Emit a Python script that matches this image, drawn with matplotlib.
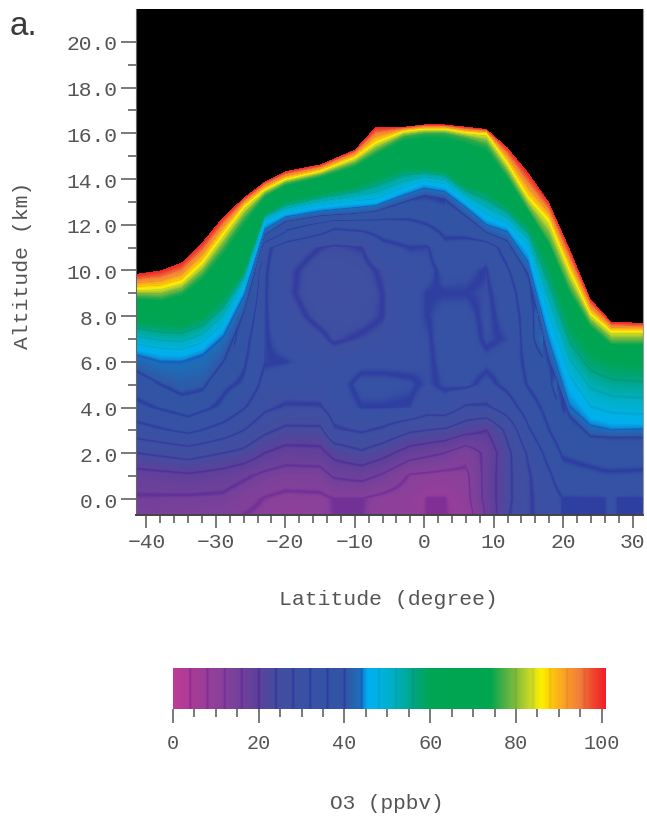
import numpy as np
import matplotlib
matplotlib.use('Agg')
import matplotlib.pyplot as plt
from matplotlib.colors import ListedColormap

# heights (km) of the main O3 isolines along latitude
lat_edge = [-41.5, -38, -35, -32, -29, -26, -23, -20, -15, -10, -7, -3, 0, 3, 6, 9, 12, 15, 18, 21, 24, 27, 31.5]
h101 = [9.85, 10.0, 10.35, 11.25, 12.35, 13.2, 13.9, 14.35, 14.65, 15.3, 16.3, 16.3, 16.4, 16.4, 16.3, 16.2, 15.4, 14.3, 13.0, 10.95, 8.75, 7.75, 7.7]
h86 = [9.2, 9.25, 9.5, 10.35, 11.6, 12.8, 13.55, 14.0, 14.35, 14.95, 15.6, 16.1, 16.2, 16.2, 16.05, 16.0, 14.7, 13.2, 12.2, 10.0, 8.1, 7.33, 7.33]
h76 = [8.85, 8.8, 9.05, 9.8, 10.95, 12.25, 13.3, 13.8, 14.15, 14.65, 15.2, 15.85, 16.0, 16.0, 15.8, 15.5, 14.2, 12.7, 11.3, 9.2, 7.65, 6.85, 6.85]
h60 = [7.8, 7.65, 7.6, 7.95, 8.75, 10.0, 12.5, 13.0, 13.35, 13.65, 14.0, 14.45, 14.45, 14.35, 13.7, 13.45, 12.8, 11.95, 10.15, 7.6, 6.4, 5.95, 5.83]
h46 = [6.6, 6.4, 6.35, 6.65, 7.5, 9.25, 12.1, 12.5, 12.8, 12.95, 13.0, 13.5, 13.85, 13.7, 13.0, 12.3, 11.95, 10.95, 7.7, 5.0, 3.65, 3.4, 3.35]
h44 = [6.3, 6.0, 6.0, 6.3, 7.1, 8.9, 11.8, 12.35, 12.6, 12.75, 12.85, 13.3, 13.6, 13.45, 12.77, 12.0, 11.7, 10.35, 6.9, 4.0, 3.2, 3.0, 3.05]
h40 = [5.6, 5.0, 4.55, 4.75, 6.0, 8.2, 11.55, 12.15, 12.4, 12.5, 12.6, 13.0, 13.3, 13.15, 12.4, 11.67, 11.3, 9.85, 6.1, 3.65, 2.75, 2.7, 2.7]
edge_levels = [40, 44, 46, 60, 76, 86, 101]

# O3 (ppbv) below the 40 line, one list per altitude
lat_low = [-41.5, -34, -29, -26, -23, -20, -15, -13, -9, -6, -2, 0.5, 3, 6, 9, 12, 15, 18, 20, 26, 27, 28, 31.5]
alt_low = [-0.7, 0, 1, 2, 3, 4, 5, 6, 7, 8, 9, 10, 11, 12, 13]
o3_m07 = [14.5, 14.0, 13.5, 12.0, 11.0, 10.3, 10.8, 12.0, 12.0, 10.5, 9.5, 8.0, 8.0, 9.5, 16.5, 23.5, 27.5, 30, 32, 32, 33, 32, 32]
o3_00 = [15.6, 15.4, 15.2, 13.5, 11.8, 11, 11.2, 12, 12, 11, 10, 8, 8, 10.5, 17.5, 23, 27.5, 30, 32, 32, 33, 32, 32]
o3_01 = [18.2, 19.3, 18.2, 16.7, 15, 14, 14.2, 16.5, 17.3, 15.5, 11.6, 11.2, 10.8, 11, 17.5, 23, 27.5, 31.3, 34.5, 35.5, 35.5, 35.5, 35.3]
o3_02 = [24, 25.9, 24, 22.9, 20, 18.4, 18.7, 21.5, 23.4, 21.5, 18, 17, 16, 13.5, 17, 23, 28.5, 33.5, 36.5, 37.8, 38, 38, 38]
o3_03 = [30.3, 33, 30.4, 28, 25, 23.1, 23.2, 27.5, 28.5, 27.4, 24.7, 24, 23.5, 21.5, 20, 25, 31.5, 36, 38.5, 41, 41.2, 41.2, 41.5]
o3_04 = [35, 38, 35.2, 32.3, 28.8, 27.6, 27.7, 30, 32, 32, 31.8, 30, 30.5, 27.5, 27.5, 30, 34, 37.5, 40, 44, 44, 44, 44]
o3_05 = [37.8, 41, 36.8, 35.4, 30.7, 30, 30, 30.5, 33, 33, 32.5, 31.5, 32.5, 32.8, 31, 33, 36.3, 39, 44, 46, 46, 46, 46]
o3_06 = [41, 44, 40, 36.5, 32.2, 32, 30.5, 30, 31, 31, 31, 31.5, 33, 33.5, 32.8, 33.5, 37, 40, 46, 46, 46, 46, 46]
o3_07 = [45, 46, 44, 37.5, 32.3, 30.5, 28.8, 27.5, 28.4, 29, 31, 31.6, 33.5, 33.5, 31.5, 32.3, 38, 45, 46, 46, 46, 46, 46]
o3_08 = [46, 46, 46, 39.5, 32.3, 29.5, 27, 26.5, 27, 28, 31, 32, 33, 33, 31.3, 33.2, 38, 46, 46, 46, 46, 46, 46]
o3_09 = [46, 46, 46, 43, 32.3, 28.8, 26, 26, 26.5, 28, 31, 32, 32, 32, 31.5, 33.8, 39, 46, 46, 46, 46, 46, 46]
o3_10 = [46, 46, 46, 46, 32.5, 28.8, 26.5, 26.5, 27, 28.5, 30.5, 31, 33, 32.8, 31.9, 35.5, 40.5, 46, 46, 46, 46, 46, 46]
o3_11 = [46, 46, 46, 46, 33, 30, 28, 27.5, 28, 31, 32, 31.8, 35, 34.5, 33.5, 38, 46, 46, 46, 46, 46, 46, 46]
o3_12 = [46, 46, 46, 46, 44, 38, 35, 33, 33.5, 34, 35, 36, 37.5, 38, 41, 46, 46, 46, 46, 46, 46, 46, 46]
o3_13 = [46, 46, 46, 46, 46, 46, 46, 46, 46, 41, 39.5, 39.5, 40, 46, 46, 46, 46, 46, 46, 46, 46, 46, 46]

# colour bar anchors
cbar_vals = [0, 4, 12, 20, 24, 32, 40, 43.5, 45.5, 48, 52, 57, 60, 74, 77, 80, 84, 86, 88, 91, 95, 98, 101]
cbar_rgb = [(190, 60, 150), (170, 60, 150), (135, 65, 155), (92, 65, 155), (68, 78, 160), (55, 82, 165), (50, 85, 165),
            (30, 110, 185), (0, 175, 240), (0, 178, 225), (0, 175, 190), (0, 165, 120), (0, 165, 85), (0, 165, 80),
            (70, 175, 70), (130, 190, 60), (215, 222, 35), (255, 240, 0), (255, 205, 10), (250, 165, 35),
            (242, 125, 60), (240, 70, 45), (240, 30, 40)]

xticks = [-40, -30, -20, -10, 0, 10, 20, 30]
yticks = [0, 2, 4, 6, 8, 10, 12, 14, 16, 18, 20]
cticks = [0, 20, 40, 60, 80, 100]


def make_cmap():
    v = np.linspace(0, 101, 4040)
    rgb = np.array(cbar_rgb) / 255.0
    lut = np.column_stack([np.interp(v, cbar_vals, rgb[:, i]) for i in range(3)])
    for s in range(4, 100, 4):
        if s <= 44:
            f = np.array([0.85, 0.76, 0.98])
        elif s <= 56 or s >= 80:
            f = np.array([0.93, 0.93, 0.93])
        else:
            continue
        # soft dark stripe, the printed figure is a bit blurred
        w = np.exp(-((v - s) / 0.3) ** 2)[:, None]
        lut = lut * (1 - w * (1 - f))
    cmap = ListedColormap(lut)
    cmap.set_over('black')
    return cmap


def build_field(lats, alts):
    low = np.array([o3_m07, o3_00, o3_01, o3_02, o3_03, o3_04, o3_05, o3_06, o3_07,
                    o3_08, o3_09, o3_10, o3_11, o3_12, o3_13], dtype=float)
    low_fine = np.array([np.interp(lats, lat_low, row) for row in low])
    edges = np.array([np.interp(lats, lat_edge, h) for h in (h40, h44, h46, h60, h76, h86, h101)])
    z = np.zeros((len(alts), len(lats)))
    for j in range(len(lats)):
        keep = np.array(alt_low) < edges[0, j] - 0.15
        x = np.concatenate([np.array(alt_low)[keep], edges[:, j], [edges[-1, j] + 0.005, 40]])
        y = np.concatenate([low_fine[keep, j], edge_levels, [130, 130]])
        z[:, j] = np.interp(alts, x, y)
    return z


fig = plt.figure(figsize=(6.47, 8.20), dpi=100)
W, H = 647.0, 820.0
mono = 'Liberation Mono'
grey = '#555555'
cmap = make_cmap()

ax = fig.add_axes([136 / W, 1 - 516 / H, 507 / W, 506 / H])
lats = np.linspace(-41.5, 31.5, 507)
alts = np.linspace(-0.7, 21.44, 506)
ax.imshow(build_field(lats, alts), origin='lower', extent=[-41.5, 31.5, -0.7, 21.44], aspect='auto',
          cmap=cmap, vmin=0, vmax=101, interpolation='nearest')
ax.set_xlim(-41.5, 31.5)
ax.set_ylim(-0.7, 21.44)
ax.set_xticks(xticks)
ax.set_xticks(np.arange(-40, 32, 2), minor=True)
ax.set_yticks(yticks)
ax.set_yticklabels(['%.1f' % t for t in yticks])
ax.set_yticks(np.arange(0, 21, 1), minor=True)
ax.tick_params(which='major', color='#555555', width=1.1, labelsize=15.3, labelcolor=grey)
ax.tick_params(which='minor', length=5.5, width=1.1, color='#555555')
ax.tick_params(axis='x', which='major', length=9.5, pad=3)
ax.tick_params(axis='y', which='major', length=11, pad=2)
for lab in ax.get_xticklabels() + ax.get_yticklabels():
    lab.set_family(mono)
ax.spines['top'].set_visible(False)
ax.spines['left'].set_color('#666666')
ax.spines['bottom'].set_color('#444444')
ax.spines['bottom'].set_linewidth(1.4)
ax.spines['right'].set_color('#999999')

cax = fig.add_axes([173 / W, 1 - 710 / H, 433 / W, 41 / H])
grad = np.linspace(0, 100.99, 1200).reshape(1, -1)
cax.imshow(grad, extent=[0, 101, 0, 1], aspect='auto', cmap=cmap, vmin=0, vmax=101, interpolation='nearest')
cax.set_xlim(0, 101)
cax.set_yticks([])
cax.set_xticks(cticks)
cax.set_xticks(np.arange(0, 101, 5), minor=True)
cax.tick_params(which='major', length=10, width=1.1, color='#555555', labelsize=14.5, labelcolor=grey, pad=7)
cax.tick_params(which='minor', length=6, width=1.1, color='#555555')
for lab in cax.get_xticklabels():
    lab.set_family(mono)
for s in cax.spines.values():
    s.set_visible(False)

fig.text(388 / W, 1 - 600 / H, 'Latitude (degree)', family=mono, size=15.4, color=grey, ha='center', va='center')
fig.text(23 / W, 1 - 265 / H, 'Altitude (km)', family=mono, size=15.4, color=grey, ha='center', va='center', rotation=90)
fig.text(387 / W, 1 - 804 / H, 'O3 (ppbv)', family=mono, size=15.2, color=grey, ha='center', va='center')
fig.text(10 / W, 1 - 35 / H, 'a.', family='Liberation Sans', size=24, color='#3a3a3a', ha='left', va='baseline')

fig.savefig('out.png', dpi=100)
